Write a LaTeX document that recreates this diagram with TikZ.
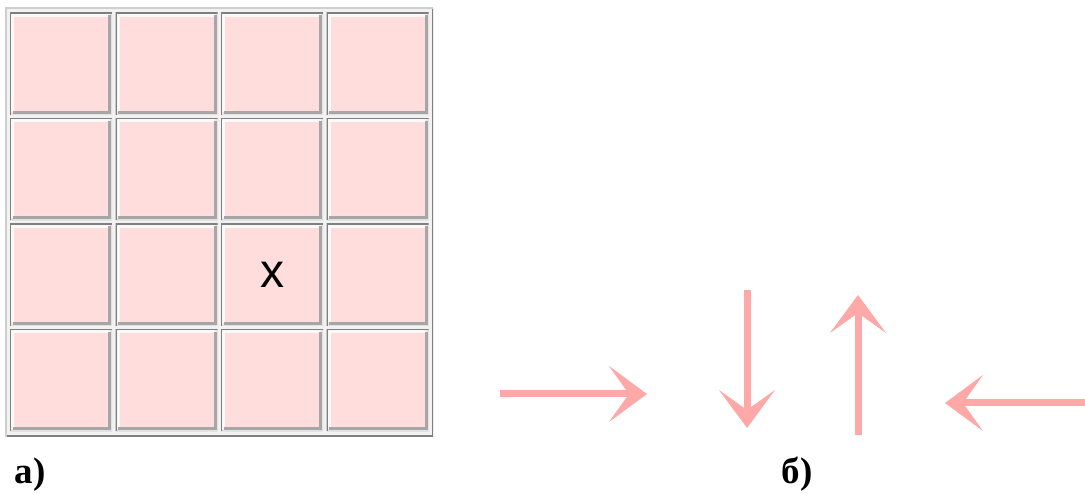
\documentclass[tikz,border=0pt]{standalone}
\usepackage{fontspec}
\setmainfont{Liberation Serif}
\newfontfamily\xfont{Liberation Sans}
\usepackage{tikz}
\usetikzlibrary{arrows.meta, positioning}

\definecolor{cellpink}{HTML}{FFDDDD}
\definecolor{arrowpink}{HTML}{FFA8A8}
\definecolor{tablegray}{HTML}{F2F2F2}
\definecolor{bevdark}{HTML}{7F7F7F}
\definecolor{bevmid}{HTML}{A6A6A6}
\definecolor{bevlight}{HTML}{E2E2E2}
\definecolor{bevwhite}{HTML}{F9F9F9}

\begin{document}
\begin{tikzpicture}[
  x=1pt, y=1pt,
  node distance=3.5pt and 3.5pt,
  tablebox/.style={minimum width=428pt, minimum height=429pt, inner sep=0pt, outer sep=0pt, fill=tablegray,
    path picture={
      \draw[bevdark, line width=3pt] (path picture bounding box.south west) -| (path picture bounding box.north east);
      \draw[bevlight!80!bevdark, line width=3pt] (path picture bounding box.south west) |- (path picture bounding box.north east);
    }},
  cell/.style={minimum size=102pt, inner sep=0pt, outer sep=0pt, fill=cellpink,
    path picture={
      \draw[bevwhite, line width=3pt] ([xshift=2.5pt,yshift=2.5pt]path picture bounding box.south west) |- ([xshift=-2.5pt,yshift=-2.5pt]path picture bounding box.north east);
      \draw[bevmid, line width=3pt] ([xshift=2.5pt,yshift=2.5pt]path picture bounding box.south west) -| ([xshift=-2.5pt,yshift=-2.5pt]path picture bounding box.north east);
      \draw[bevlight, line width=2pt] (path picture bounding box.south west) -| (path picture bounding box.north east);
      \draw[bevdark, line width=2pt] (path picture bounding box.south west) |- (path picture bounding box.north east);
    }},
  arrow/.style={draw=arrowpink, line width=7pt, -{Stealth[length=38pt, width=56pt, inset=20pt]}},
  lbl/.style={font=\bfseries\fontsize{37pt}{37pt}\selectfont}
]
\useasboundingbox (0,0) rectangle (1085,494);

% Table
\node[tablebox] (tbl) at (219,271.5) {};

% Cells
\node[cell, anchor=north west] (c11) at ([xshift=5pt,yshift=-5pt]tbl.north west) {};
\node[cell, right=of c11] (c12) {};
\node[cell, right=of c12] (c13) {};
\node[cell, right=of c13] (c14) {};
\node[cell, below=of c11] (c21) {};
\node[cell, right=of c21] (c22) {};
\node[cell, right=of c22] (c23) {};
\node[cell, right=of c23] (c24) {};
\node[cell, below=of c21] (c31) {};
\node[cell, right=of c31] (c32) {};
\node[cell, right=of c32, font=\xfont\fontsize{48pt}{48pt}\selectfont, text depth=1pt] (c33) {x};
\node[cell, right=of c33] (c34) {};
\node[cell, below=of c31] (c41) {};
\node[cell, right=of c41] (c42) {};
\node[cell, right=of c42] (c43) {};
\node[cell, right=of c43] (c44) {};

% Arrow ends
\coordinate (r1) at (500,100);
\coordinate (r2) at (647,100);
\coordinate (d1) at (747,204);
\coordinate (d2) at (747,66);
\coordinate (u1) at (858,59);
\coordinate (u2) at (858,199);
\coordinate (l1) at (1085,91);
\coordinate (l2) at (945,91);

% Labels
\node[lbl] (la) at (30,19) {а)};
\node[lbl] (lb) at (797,20) {б)};

% Pointers
\draw[arrow] (r1) -- (r2);
\draw[arrow] (d1) -- (d2);
\draw[arrow] (u1) -- (u2);
\draw[arrow] (l1) -- (l2);
\end{tikzpicture}
\end{document}
